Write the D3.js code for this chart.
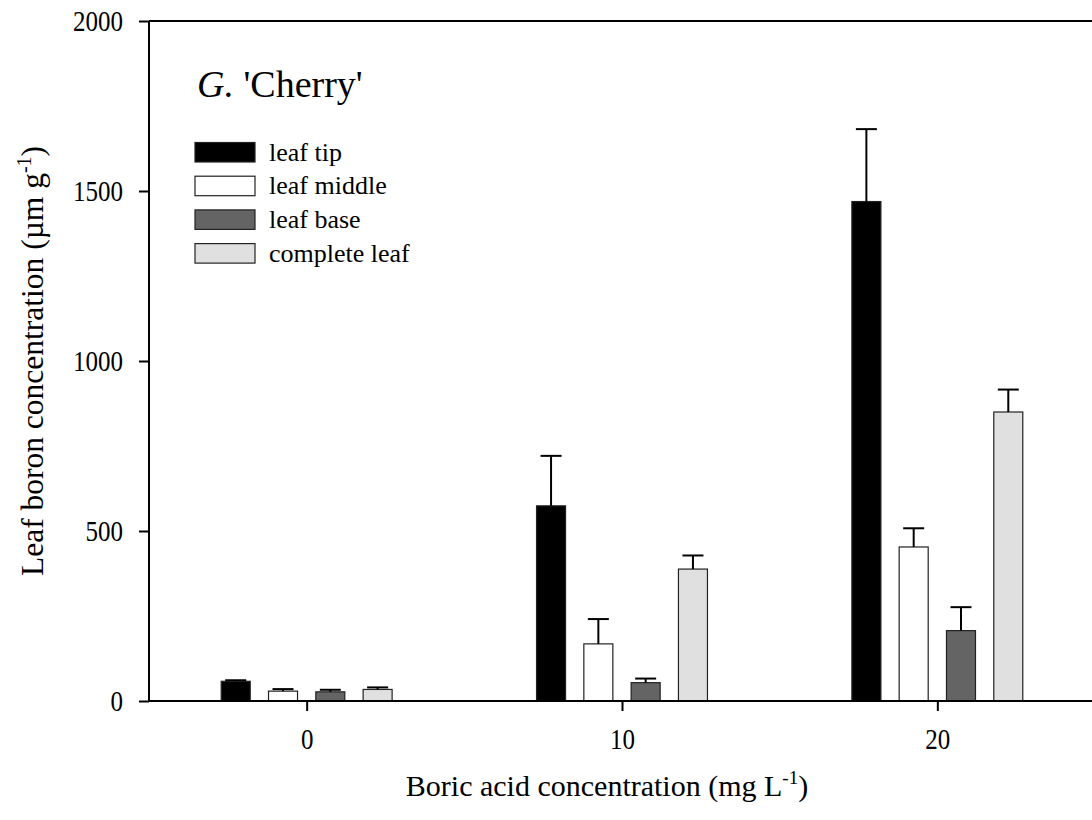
<!DOCTYPE html>
<html>
<head>
<meta charset="utf-8">
<script src="https://cdn.jsdelivr.net/npm/d3@7/dist/d3.min.js"></script>
<style>
  html, body { margin: 0; padding: 0; background: #fff; }
  svg { display: block; }
  text { font-family: "Liberation Serif", "Times New Roman", serif; fill: #000; }
</style>
</head>
<body>
<svg id="chart" width="1092" height="820"></svg>
<script>
// Boric acid treatments (mg L-1)
const doses = [0, 10, 20];
const parts = ["leaf tip", "leaf middle", "leaf base", "complete leaf"];
const partFills = ["#000000", "#ffffff", "#646464", "#e0e0e0"];

// Mean leaf boron concentration per part, one value per dose
const leafTip      = [58, 574, 1469];
const leafMiddle   = [29, 168, 453];
const leafBase     = [27, 54, 207];
const completeLeaf = [34, 388, 850];

// Standard errors (upper bars only)
const leafTipErr      = [3, 147, 213];
const leafMiddleErr   = [6, 73, 55];
const leafBaseErr     = [6, 12, 69];
const completeLeafErr = [6, 40, 66];

const yTicks = [0, 500, 1000, 1500, 2000];

const series = [
  { name: parts[0], fill: partFills[0], values: leafTip, errs: leafTipErr },
  { name: parts[1], fill: partFills[1], values: leafMiddle, errs: leafMiddleErr },
  { name: parts[2], fill: partFills[2], values: leafBase, errs: leafBaseErr },
  { name: parts[3], fill: partFills[3], values: completeLeaf, errs: completeLeafErr }
];

const svg = d3.select("#chart");

const x = d3.scaleLinear().domain([-5, 25]).range([149, 1095]);
const y = d3.scaleLinear().domain([0, 2000]).range([701, 21]);

const barStep = 1.5;   // data units between neighbouring bars in a group
const barWidth = 0.92; // data units
const tall = 1.17;     // vertical stretch of the tick lettering

// Bars
series.forEach((s, i) => {
  const offset = (i - 1.5) * barStep;
  const g = svg.append("g");
  g.selectAll("rect")
    .data(doses.map((d, j) => ({ dose: d, v: s.values[j], e: s.errs[j] })))
    .join("rect")
    .attr("x", d => x(d.dose + offset - barWidth / 2))
    .attr("width", x(barWidth) - x(0))
    .attr("y", d => y(d.v))
    .attr("height", d => y(0) - y(d.v))
    .attr("fill", s.fill)
    .attr("stroke", "#222")
    .attr("stroke-width", 1.2);

  // Error bars: vertical stem and cap
  const eg = svg.append("g").attr("stroke", "#000").attr("stroke-width", 2);
  doses.forEach((d, j) => {
    const cx = x(d + offset);
    const top = y(s.values[j] + s.errs[j]);
    eg.append("line").attr("x1", cx).attr("x2", cx)
      .attr("y1", y(s.values[j])).attr("y2", top);
    eg.append("line").attr("x1", cx - 10.5).attr("x2", cx + 10.5)
      .attr("y1", top).attr("y2", top);
  });
});

// Top frame line
svg.append("line").attr("stroke", "#000").attr("stroke-width", 2)
  .attr("x1", 149).attr("x2", 1092).attr("y1", y(2000)).attr("y2", y(2000));

// Y axis
const yAxis = d3.axisLeft(y).tickValues(yTicks).tickSize(10).tickFormat(d3.format("d"));
const yg = svg.append("g").attr("transform", `translate(${x(-5)},0)`).call(yAxis);
yg.select(".domain").attr("stroke-width", 2).attr("d", `M0,${y(2000)}V${y(0)}`);
yg.selectAll(".tick line").attr("stroke-width", 2);
yg.selectAll(".tick text")
  .attr("x", -26).attr("dy", "0.34em")
  .attr("transform", `scale(1,${tall})`)
  .style("font-size", "25px").style("font-family", "Liberation Serif");

// X axis
const xAxis = d3.axisBottom(x).tickValues(doses).tickSize(10).tickFormat(d3.format("d"));
const xg = svg.append("g").attr("transform", `translate(0,${y(0)})`).call(xAxis);
xg.select(".domain").attr("stroke-width", 2).attr("d", `M${x(-5)},0H1092`);
xg.selectAll(".tick line").attr("stroke-width", 2);
xg.selectAll(".tick text")
  .attr("y", 0).attr("dy", 0)
  .attr("transform", `translate(0,47.5) scale(1,${tall})`)
  .style("font-size", "25px").style("font-family", "Liberation Serif");

// Axis titles
const xt = svg.append("text").attr("x", 607).attr("y", 796)
  .attr("text-anchor", "middle").style("font-size", "30px");
xt.append("tspan").text("Boric acid concentration (mg L");
xt.append("tspan").attr("dy", -12).style("font-size", "19px").text("-1");
xt.append("tspan").attr("dy", 12).text(")");

const yt = svg.append("text")
  .attr("transform", "translate(43,361) rotate(-90)")
  .attr("text-anchor", "middle").style("font-size", "31.5px");
yt.append("tspan").text("Leaf boron concentration (\u00b5m g");
yt.append("tspan").attr("dy", -12).style("font-size", "20px").text("-1");
yt.append("tspan").attr("dy", 12).text(")");

// Panel title
const title = svg.append("text").attr("x", 197).attr("y", 97).style("font-size", "38px");
title.append("tspan").style("font-style", "italic").text("G.");
title.append("tspan").text(" 'Cherry'");

// Legend
const legend = svg.append("g").attr("transform", "translate(195,142.5)");
series.forEach((s, i) => {
  const row = legend.append("g").attr("transform", `translate(0,${i * 33.7})`);
  row.append("rect").attr("width", 60).attr("height", 19.5)
    .attr("fill", s.fill).attr("stroke", "#222").attr("stroke-width", 1.2);
  row.append("text").attr("x", 74).attr("y", 18).style("font-size", "26px").text(s.name);
});
</script>
</body>
</html>
